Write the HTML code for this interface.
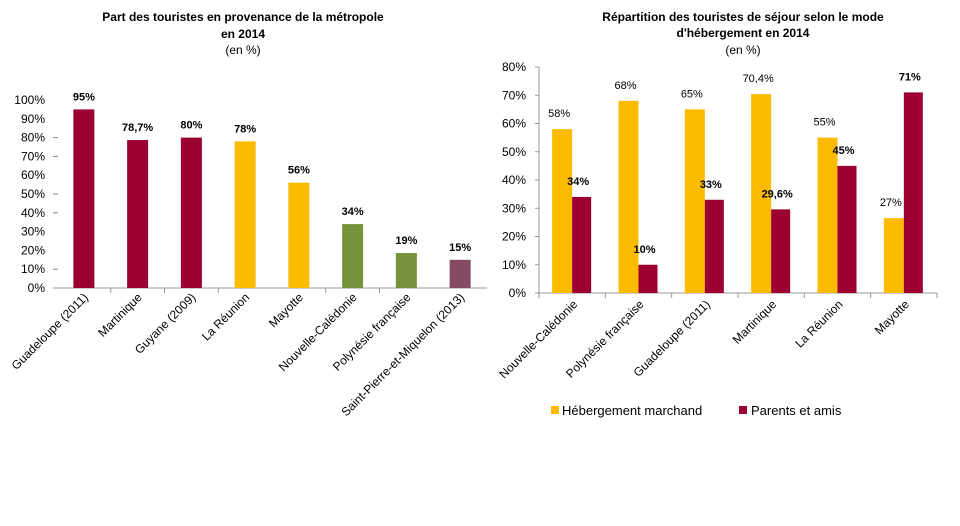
<!DOCTYPE html>
<html><head><meta charset="utf-8"><style>
body{margin:0;background:#fff;width:960px;height:521px;overflow:hidden}
svg{font-family:"Liberation Sans","DejaVu Sans",sans-serif}
</style></head><body>
<svg width="960" height="521">
<g>
<text x="243" y="21" text-anchor="middle" font-size="12" font-weight="bold">Part des touristes en provenance de la métropole</text>
<text x="243" y="38" text-anchor="middle" font-size="12" font-weight="bold">en 2014</text>
<text x="243" y="54" text-anchor="middle" font-size="12">(en %)</text>
<g id="L"></g>
</g>
<g>
<text x="743" y="21" text-anchor="middle" font-size="12" font-weight="bold">Répartition des touristes de séjour selon le mode</text>
<text x="743" y="37" text-anchor="middle" font-size="12" font-weight="bold">d'hébergement en 2014</text>
<text x="743" y="54" text-anchor="middle" font-size="12">(en %)</text>
<g id="R"></g>
<g>
<rect x="551" y="406" width="8" height="8" fill="#fdbb00"/>
<text x="562" y="415" font-size="13">Hébergement marchand</text>
<rect x="739" y="406" width="8" height="8" fill="#9c0031"/>
<text x="751" y="415" font-size="13">Parents et amis</text>
</g>
</g>
</svg>
<script>
const leftCats=["Guadeloupe (2011)","Martinique","Guyane (2009)","La Réunion","Mayotte","Nouvelle-Calédonie","Polynésie française","Saint-Pierre-et-Miquelon (2013)"];
const leftVals=[95,78.7,80,78,56,34,18.6,15];
const leftLabels=["95%","78,7%","80%","78%","56%","34%","19%","15%"];
const leftColors=["#9c0031","#9c0031","#9c0031","#fdbb00","#fdbb00","#76933c","#76933c","#874a63"];
const leftTicks=[0,10,20,30,40,50,60,70,80,90,100];
const rightCats=["Nouvelle-Calédonie","Polynésie française","Guadeloupe (2011)","Martinique","La Réunion","Mayotte"];
const rightMarchand=[58,68,65,70.4,55,26.5];
const rightParents=[34,10,33,29.6,45,71];
const rightMarchandLabels=["58%","68%","65%","70,4%","55%","27%"];
const rightParentsLabels=["34%","10%","33%","29,6%","45%","71%"];
const rightTicks=[0,10,20,30,40,50,60,70,80];
const NS="http://www.w3.org/2000/svg";
function mk(p,t,a,txt){const e=document.createElementNS(NS,t);for(const k in a)e.setAttribute(k,a[k]);if(txt!=null)e.textContent=txt;p.appendChild(e);return e;}
// Left
(function(){
const g=document.getElementById('L');
const x0=57,x1=487,base=288,top=100,max=100;
const y=v=>base-(v/max)*(base-top);
const cw=(x1-x0)/leftCats.length;
leftTicks.forEach(t=>{const e=mk(g,'text',{x:45,y:y(t)+4,'text-anchor':'end','font-size':12},t+'%');

});
[10,40,50,70,80].forEach(t=>{mk(g,'line',{x1:53,x2:58,y1:y(t),y2:y(t),stroke:'#888'});});
const ax=mk(g,'line',{x1:53,x2:x1,y1:base,y2:base,stroke:'#999'});


[1,2,3,5,6].forEach(i=>mk(g,'line',{x1:x0+i*cw,x2:x0+i*cw,y1:base,y2:base+5,stroke:'#999'}));
leftCats.forEach((c,i)=>{const cx=x0+cw*(i+0.5);const v=leftVals[i];
const r=mk(g,'rect',{x:cx-10.5,y:y(v),width:21,height:base-y(v),fill:leftColors[i]});


const l=mk(g,'text',{x:cx,y:y(v)-9,'text-anchor':'middle','font-size':11,'font-weight':'bold'},leftLabels[i]);


const tx=cx+5,ty=base+10;
const cl=mk(g,'text',{x:tx,y:ty,'text-anchor':'end','font-size':12,transform:`rotate(-45 ${tx} ${ty})`},c);

});
})();
// Right
(function(){
const g=document.getElementById('R');
const x0=539,x1=937,base=293,top=67,max=80;
const y=v=>base-(v/max)*(base-top);
const cw=(x1-x0)/rightCats.length;
rightTicks.forEach(t=>{const e=mk(g,'text',{x:526,y:y(t)+4,'text-anchor':'end','font-size':12},t+'%');


mk(g,'line',{x1:535,x2:539,y1:y(t),y2:y(t),stroke:'#999'});});
const ya=mk(g,'line',{x1:x0,x2:x0,y1:top,y2:base,stroke:'#999'});


const ax=mk(g,'line',{x1:x0,x2:x1,y1:base,y2:base,stroke:'#999'});


for(let i=0;i<=rightCats.length;i++)mk(g,'line',{x1:x0+i*cw,x2:x0+i*cw,y1:base,y2:base+5,stroke:'#999'});
rightCats.forEach((c,i)=>{const cx=x0+cw*(i+0.5);
const a=rightMarchand[i],b=rightParents[i];
const r1=mk(g,'rect',{x:cx-20,y:y(a),width:20,height:base-y(a),fill:'#fdbb00'});


const r2=mk(g,'rect',{x:cx,y:y(b),width:19,height:base-y(b),fill:'#9c0031'});


const l1=mk(g,'text',{x:cx-13,y:y(a)-12,'text-anchor':'middle','font-size':11},rightMarchandLabels[i]);


const l2=mk(g,'text',{x:cx+6,y:y(b)-12,'text-anchor':'middle','font-size':11,'font-weight':'bold'},rightParentsLabels[i]);


const tx=cx+6,ty=base+12;
const cl=mk(g,'text',{x:tx,y:ty,'text-anchor':'end','font-size':12,transform:`rotate(-45 ${tx} ${ty})`},c);

});
})();
</script>
</body></html>
